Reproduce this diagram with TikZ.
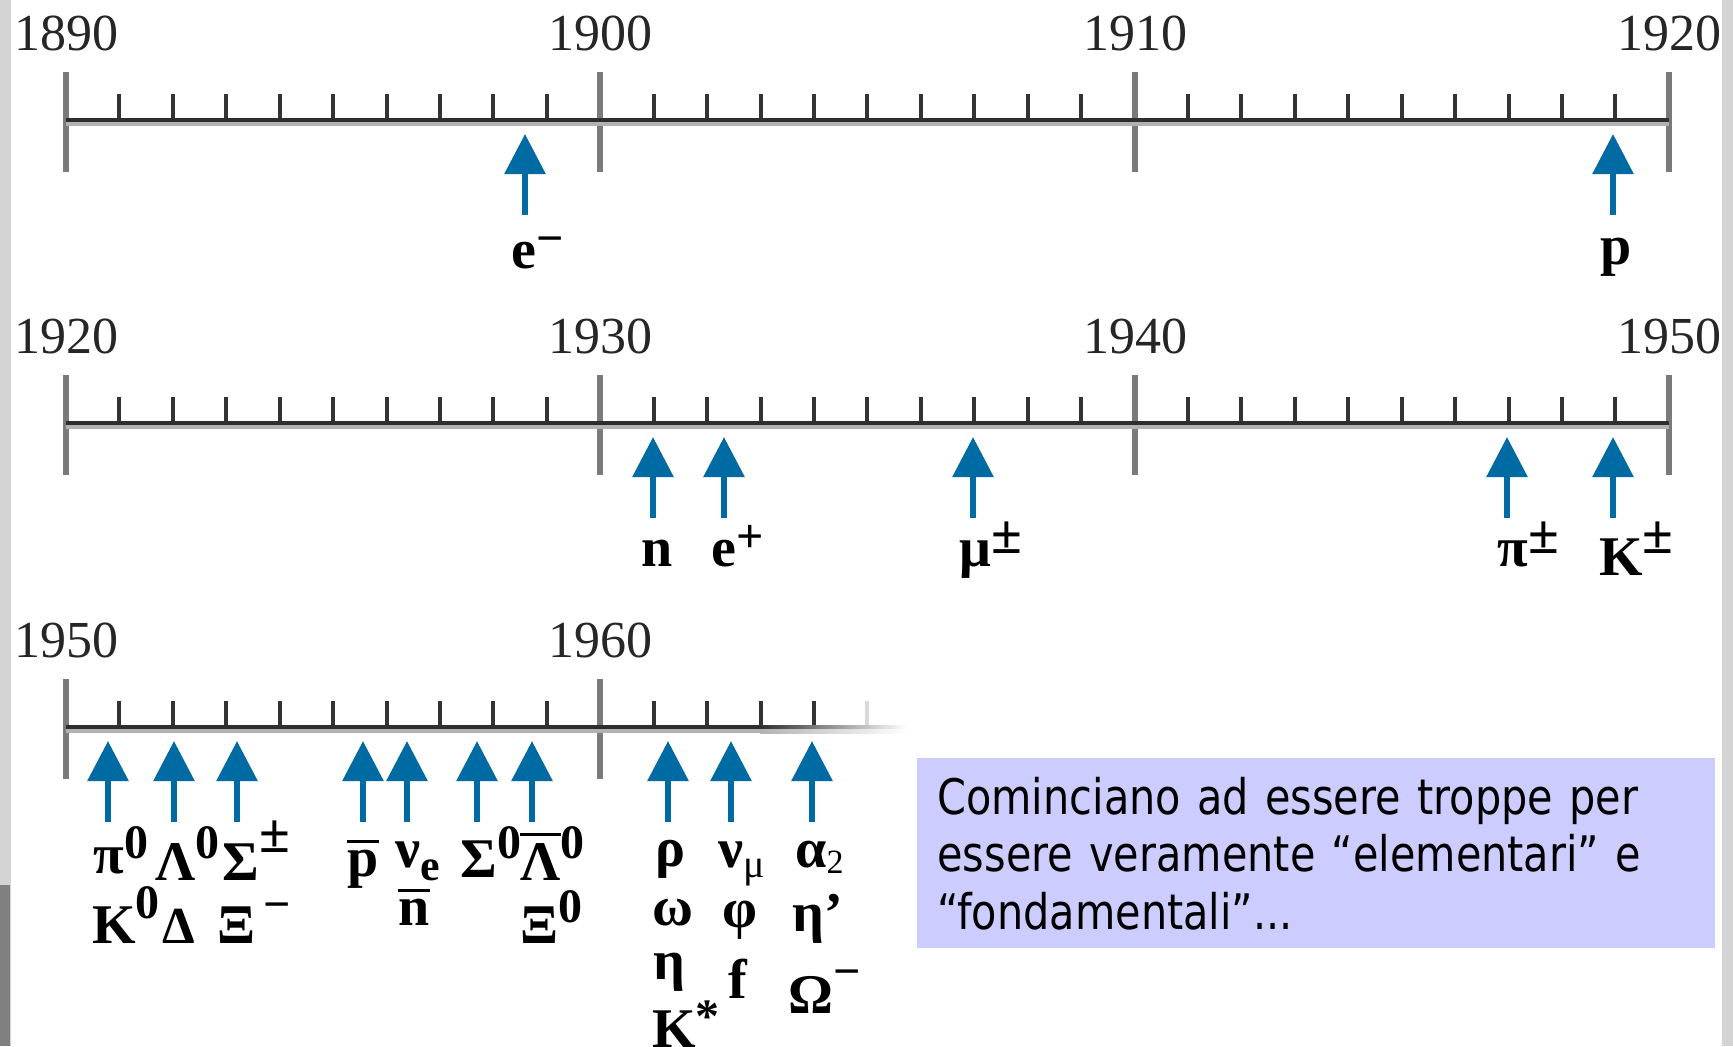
\documentclass[tikz,border=0pt]{standalone}
\usepackage{fontspec}
\setmainfont{Liberation Serif}
\newfontfamily\boxfont[FakeStretch=0.845]{DejaVu Sans}
\usetikzlibrary{arrows.meta}
\definecolor{arrowblue}{RGB}{0,106,163}
\definecolor{boxfill}{RGB}{204,204,255}
\newcommand\pf{\fontsize{28}{28}\selectfont\bfseries}
\newcommand\supr[2]{\raisebox{#1}{\fontsize{24}{24}\selectfont\bfseries #2}}
\newcommand\pmsup[1]{\raisebox{#1}{\fontsize{28}{28}\selectfont\bfseries ±}}
\newcommand\obar[1]{\vbox{\hrule height 1.5pt\kern 3.5pt\hbox{#1}}}
\newcommand\lowr[3]{\raisebox{#1}{\fontsize{#2}{#2}\selectfont #3}}
\newcommand\disc[3]{\coordinate (#1t) at (#2,#3+95); \coordinate (#1h) at (#2,#3+14); \draw[disc] (#1t) -- (#1h);}
\begin{document}
\begin{tikzpicture}[x=0.5pt,y=-0.5pt,
  axisdark/.style={line width=2pt, draw=black!82},
  axislight/.style={line width=2pt, draw=black!30},
  majortick/.style={line width=3pt, draw=black!52},
  minortick/.style={line width=2pt, draw=black!80},
  year/.style={font=\fontsize{26}{26}\selectfont, inner sep=0pt, text=black!85},
  disc/.style={line width=3pt, draw=arrowblue, -{Triangle[width=20pt,length=20pt]}},
  lbl/.style={anchor=base west, inner sep=0pt, font=\pf}]
\useasboundingbox (0,0) rectangle (1733,1046);
% slide background edges
\fill[black!17] (0,0) rectangle (11,1046);
\fill[black!50] (0,885) rectangle (10,1046);
\fill[black!17] (1722,0) rectangle (1733,1046);

% rows 1 and 2
\foreach \r in {120,423}{
  \foreach \k in {1,...,29}
    \draw[minortick] ({66+\k*53.43},\r-26) -- ({66+\k*53.43},\r);
  \foreach \k in {0,10,20,30}
    \draw[majortick] ({66+\k*53.43},\r-48) -- ({66+\k*53.43},\r+52);
  \draw[axislight] (66,\r+4) -- (1669,\r+4);
  \draw[axisdark] (66,\r) -- (1669,\r);
}
% row 3
\foreach \k in {1,...,14}
  \draw[minortick] ({66+\k*53.43},701) -- ({66+\k*53.43},727);
\draw[minortick, draw=black!15] ({66+15*53.43},701) -- ({66+15*53.43},727);
\foreach \k in {0,10}
  \draw[majortick] ({66+\k*53.43},679) -- ({66+\k*53.43},779);
\draw[axislight] (66,731) -- (760,731);
\draw[axisdark] (66,727) -- (760,727);
\shade[left color=black!82, right color=white] (760,725) rectangle (907,729);
\shade[left color=black!30, right color=white] (760,729) rectangle (907,733);

% year labels
\node[year] (y1890) at (66,33) {1890};
\node[year] (y1900) at (600,33) {1900};
\node[year] (y1910) at (1135,33) {1910};
\node[year] (y1920a) at (1669,33) {1920};
\node[year] (y1920b) at (66,336) {1920};
\node[year] (y1930) at (600,336) {1930};
\node[year] (y1940) at (1135,336) {1940};
\node[year] (y1950a) at (1669,336) {1950};
\node[year] (y1950b) at (66,640) {1950};
\node[year] (y1960) at (600,640) {1960};

% discovery arrows
\disc{aem}{525}{120}
\disc{ap}{1613}{120}
\disc{an}{653}{423}
\disc{aep}{724}{423}
\disc{amu}{973}{423}
\disc{api}{1507}{423}
\disc{aK}{1613}{423}
\disc{b1}{108}{727}
\disc{b2}{174}{727}
\disc{b3}{237}{727}
\disc{b4}{363}{727}
\disc{b5}{407}{727}
\disc{b6}{477}{727}
\disc{b7}{532}{727}
\disc{b8}{668}{727}
\disc{b9}{731}{727}
\disc{b10}{812}{727}

% particle labels, row 1
\node[lbl] (Lem) at (511,268) {e\supr{7pt}{−}};
\node[lbl] (Lp) at (1600,264) {p};
% row 2
\node[lbl] (Ln) at (641,566) {n};
\node[lbl] (Lep) at (711,566) {e\supr{7pt}{+}};
\node[lbl] (Lmu) at (959,566) {μ\pmsup{6.5pt}};
\node[lbl] (Lpi) at (1497,566) {π\pmsup{6.5pt}};
\node[lbl] (LK) at (1599,575) {K\pmsup{11pt}};
% row 3
\node[lbl] (Lpi0) at (93,873) {π\supr{7.5pt}{0}};
\node[lbl] (LK0) at (92,943) {K\supr{12.5pt}{0}};
\node[lbl] (LL0) at (155,880) {Λ\supr{11pt}{0}};
\node[lbl, font=\fontsize{26}{26}\selectfont\bfseries] (LD) at (162,943) {Δ};
\node[lbl] (LS) at (222,880) {Σ\pmsup{14pt}};
\node[lbl] (LX) at (217,943) {Ξ\kern4pt\supr{11.5pt}{−}};
\node[lbl] (Lpb) at (347,876) {\obar{p}};
\node[lbl] (Lnue) at (395,867) {ν\lowr{-6.5pt}{22}{\bfseries e}};
\node[lbl] (Lnb) at (398,925) {\obar{n}};
\node[lbl] (LS0) at (460,877) {Σ\supr{9.5pt}{0}};
\node[lbl] (LLb0) at (520,880) {\obar{Λ}\supr{11pt}{0}};
\node[lbl] (LX0) at (520,943) {Ξ\supr{10.5pt}{0}};
\node[lbl] (Lrho) at (655,866) {ρ};
\node[lbl] (Lom) at (652,925) {ω};
\node[lbl] (Leta) at (653,979) {η};
\node[lbl] (LKs) at (652,1047) {K\supr{7.5pt}{*}};
\node[lbl] (Lnum) at (718,867) {ν\lowr{-5pt}{20}{\mdseries μ}};
\node[lbl] (Lphi) at (722,927) {φ};
\node[lbl] (Lf) at (728,998) {f};
\node[lbl] (La2) at (795,867) {α\lowr{-3pt}{17}{\mdseries 2}};
\node[lbl] (Letap) at (792,931) {η’};
\node[lbl] (LOm) at (788,1013) {Ω\supr{13pt}{−}};

% comment box
\node[fill=boxfill, anchor=north west, minimum width=399pt, minimum height=95pt,
      inner xsep=10pt, inner ysep=0pt, text width=379pt, align=left,
      font=\boxfont\fontsize{24.5}{28.75}\selectfont] (note) at (917,758)
  {Cominciano ad essere troppe per\\essere veramente “elementari” e\\“fondamentali”...};
\end{tikzpicture}
\end{document}
